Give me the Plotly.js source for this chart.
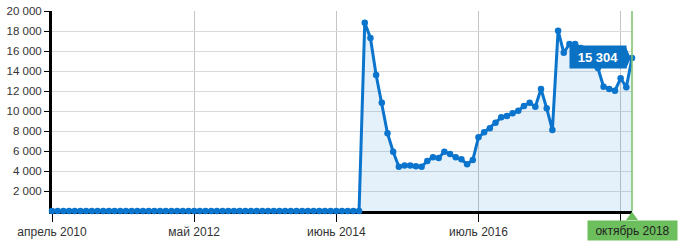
<!DOCTYPE html>
<html>
<head>
<meta charset="utf-8">
<script src="https://cdn.plot.ly/plotly-3.0.1.min.js"></script>
<style>
html,body{margin:0;padding:0;background:#fff;}
#chart{width:689px;height:250px;}
</style>
</head>
<body>
<div id="chart"></div>
<script>
// Monthly values, April 2010 .. October 2018
var values = [
  0,0,0,0,0,0,0,0,0,0,
  0,0,0,0,0,0,0,0,0,0,
  0,0,0,0,0,0,0,0,0,0,
  0,0,0,0,0,0,0,0,0,0,
  0,0,0,0,0,0,0,0,0,0,
  0,0,0,0,0,
  18830,17300,13600,10830,7770,5930,4430,4550,4550,4480,
  4430,5000,5370,5300,5930,5700,5370,5170,4670,5100,
  7370,7870,8270,8830,9370,9500,9770,10030,10500,10830,
  10430,12200,10270,8100,18030,15830,16700,16700,16300,15800,
  15200,14300,12430,12200,12030,13270,12370,15304
];
var xTickIndex = [0, 25, 50, 75, 100];
var xTickLabels = ['апрель 2010', 'май 2012', 'июнь 2014', 'июль 2016', ''];
var yTickValues = [2000,4000,6000,8000,10000,12000,14000,16000,18000,20000];
var yTickLabels = ['2 000','4 000','6 000','8 000','10 000','12 000','14 000','16 000','18 000','20 000'];
var lastLabel = 'октябрь 2018';

var xs = values.map(function(_, i){ return i; });
var lastI = values.length - 1;
var lastV = values[lastI];
function fmt(v){ return String(v).replace(/\B(?=(\d{3})+(?!\d))/g, ' '); }

var blue = '#0b74cc';
var green = '#6cbf5c';

var trace = {
  x: xs, y: values, type: 'scatter', mode: 'lines+markers',
  line: {color: blue, width: 3},
  marker: {color: blue, size: 6.5},
  fill: 'tozeroy', fillcolor: 'rgba(0,120,210,0.1)',
  cliponaxis: false, hoverinfo: 'skip'
};

var layout = {
  width: 689, height: 250,
  margin: {l: 52, r: 57, t: 11, b: 39},
  paper_bgcolor: '#fff', plot_bgcolor: '#fff',
  showlegend: false,
  hovermode: false,
  font: {family: 'Liberation Sans, Arial, sans-serif', color: '#333'},
  xaxis: {
    type: 'linear', range: [0, lastI],
    tickvals: xTickIndex, ticktext: xTickLabels,
    showgrid: true, gridcolor: '#c4c4c4', gridwidth: 1,
    zeroline: false,
    showline: true, linecolor: '#000', linewidth: 2.5,
    ticks: 'outside', ticklen: 8, tickcolor: '#000', tickwidth: 1,
    tickfont: {size: 12, color: '#333'},
    ticklabelstandoff: 0,
    layer: 'below traces', fixedrange: true
  },
  yaxis: {
    range: [0, 20000],
    tickvals: yTickValues, ticktext: yTickLabels,
    showgrid: true, gridcolor: '#dadada', gridwidth: 1,
    zeroline: false,
    showline: true, linecolor: '#000', linewidth: 3,
    ticks: 'outside', ticklen: 5, tickcolor: '#000', tickwidth: 1,
    tickfont: {size: 11.5, color: '#333'},
    layer: 'below traces', fixedrange: true
  },
  shapes: [
    {type: 'line', xref: 'paper', yref: 'paper', x0: 1, x1: 1, y0: 0, y1: 1,
     line: {color: '#7ac36a', width: 1.5}},
    {type: 'path', xref: 'paper', yref: 'paper',
     path: 'M 0.9897,-0.045 L 1,-0.004 L 1.0103,-0.045 Z',
     fillcolor: green, line: {width: 0}},
    {type: 'path', xref: 'paper', yref: 'y',
     path: 'M 0.9895,' + (lastV + 1100) + ' L 0.998,' + lastV + ' L 0.9895,' + (lastV - 1100) + ' Z',
     fillcolor: '#0a72c4', line: {width: 0}}
  ],
  annotations: [
    {x: lastI, y: lastV, xref: 'x', yref: 'y', text: '<b>' + fmt(lastV) + '</b>',
     showarrow: false, xanchor: 'right', yanchor: 'middle', xshift: -5.5, yshift: 1,
     bgcolor: '#0a72c4', font: {size: 13, color: '#fff', family: 'Liberation Sans, Arial, sans-serif'},
     width: 52, height: 18, borderpad: 2, align: 'center'},
    {x: lastI, y: 0, xref: 'x', yref: 'paper', text: lastLabel,
     showarrow: false, xanchor: 'center', yanchor: 'top', yshift: -9,
     bgcolor: green, font: {size: 12, color: '#222', family: 'Liberation Sans, Arial, sans-serif'},
     width: 85, height: 15, borderpad: 2, align: 'center'}
  ]
};

Plotly.newPlot('chart', [trace], layout, {displayModeBar: false, staticPlot: true});
</script>
</body>
</html>
